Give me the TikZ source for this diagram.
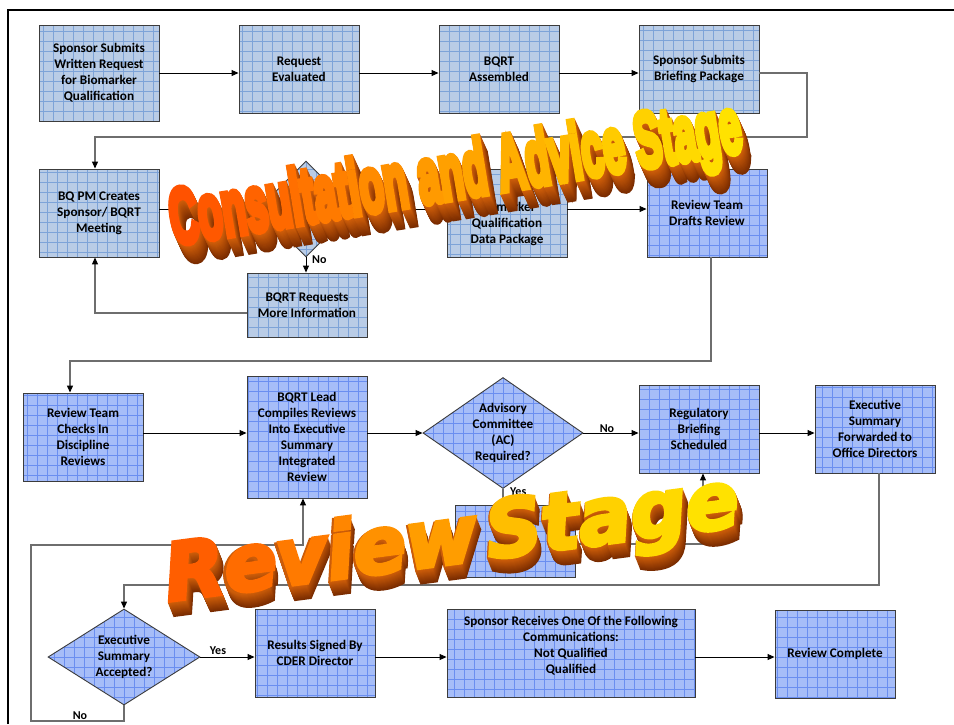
\documentclass[tikz,border=0pt]{standalone}
\usepackage{fontspec}
\setmainfont{Carlito}
\newfontfamily\waConsFont{Liberation Sans}[BoldFeatures={FakeBold=9}]
\newfontfamily\waRevFont{DejaVu Sans}[BoldItalicFeatures={FakeBold=5}]
\usetikzlibrary{shapes.geometric,arrows.meta}
\definecolor{boxgray}{HTML}{B9CCE6}
\definecolor{gridgray}{HTML}{7DA3D8}
\definecolor{boxblue}{HTML}{A6BDF8}
\definecolor{gridblue}{HTML}{6A8EF0}
\definecolor{edge}{HTML}{3C3C3C}
\definecolor{route}{HTML}{6E6E6E}
\definecolor{wr}{HTML}{FF5200}
\definecolor{wy}{HTML}{FFE200}
\definecolor{wdk}{HTML}{7A2C00}
\definecolor{wmd}{HTML}{D2600A}
\newcommand\gl[2]{\textcolor{wy!#1!wr}{#2}}
\newcommand\ConsPlain{Consultation and Advice Stage}
\newcommand\ConsColor{\gl{0}{C}\gl{4}{o}\gl{8}{n}\gl{12}{s}\gl{16}{u}\gl{20}{l}\gl{24}{t}\gl{28}{a}\gl{32}{t}\gl{36}{i}\gl{40}{o}\gl{44}{n} \gl{50}{a}\gl{54}{n}\gl{58}{d} \gl{64}{A}\gl{68}{d}\gl{72}{v}\gl{76}{i}\gl{80}{c}\gl{84}{e} \gl{88}{S}\gl{91}{t}\gl{94}{a}\gl{97}{g}\gl{100}{e}}
\newcommand\RevPlain{Review\hspace{0.12em}Stage}
\newcommand\RevColor{\gl{8}{R}\gl{18}{e}\gl{28}{v}\gl{36}{i}\gl{44}{e}\gl{52}{w}\hspace{0.12em}\gl{75}{S}\gl{82}{t}\gl{88}{a}\gl{94}{g}\gl{100}{e}}
\tikzset{
  basebox/.style={draw=edge, line width=0.9pt, inner sep=0pt, align=center,
    font=\bfseries\fontsize{13.2}{16}\selectfont, text=black},
  graybox/.style={basebox, rectangle, fill=boxgray,
    path picture={\draw[gridgray, line width=0.4pt, step=10pt]
      (path picture bounding box.south west) grid (path picture bounding box.north east);}},
  bluebox/.style={basebox, rectangle, fill=boxblue,
    path picture={\draw[gridblue, line width=0.4pt, step=10pt]
      (path picture bounding box.south west) grid (path picture bounding box.north east);}},
  graydia/.style={graybox, diamond},
  bluedia/.style={bluebox, diamond},
  arr/.style={line width=0.9pt, draw=black, -{Triangle[length=7pt,width=6pt]}},
  rline/.style={line width=1.1pt, draw=route},
  rarr/.style={rline, -{Triangle[length=7pt,width=6pt,color=black]}},
  lab/.style={font=\bfseries\fontsize{12}{14}\selectfont, inner sep=1pt, text=black},
  diatext/.style={font=\bfseries\fontsize{13.2}{16}\selectfont, align=center, text=black}
}
\begin{document}
\begin{tikzpicture}[x=1pt,y=-1pt]
\useasboundingbox (0,0) rectangle (954,724);
\fill[white] (0,0) rectangle (954,724);
\draw[line width=2.5pt] (8,724) -- (8,10) -- (954,10);

% consultation stage
\node[graybox, minimum width=120, minimum height=96] (b1) at (99,73) {Sponsor Submits\\Written Request\\for Biomarker\\Qualification};
\node[graybox, minimum width=120, minimum height=88] (b2) at (299,69) {Request\\Evaluated};
\node[graybox, minimum width=120, minimum height=88] (b3) at (499,69) {BQRT\\Assembled};
\node[graybox, minimum width=120, minimum height=88] (b4) at (699,69) {Sponsor Submits\\Briefing Package};
\node[graybox, minimum width=120, minimum height=88] (b5) at (99,213) {BQ PM Creates\\Sponsor/ BQRT\\Meeting};
\node[graydia, minimum width=96, minimum height=96] (d1) at (306,209) {};
\node[graybox, minimum width=120, minimum height=64] (b6) at (307,305) {BQRT Requests\\More Information};
\node[graybox, minimum width=120, minimum height=88] (b7) at (507,213) {\mbox{}\\\mbox{}\\Biomarker\\Qualification\\Data Package};
\node[bluebox, minimum width=120, minimum height=88] (b8) at (707,213) {Review Team\\Drafts Review};

% review stage
\node[bluebox, minimum width=120, minimum height=88] (b9) at (83,437) {Review Team\\Checks In\\Discipline\\Reviews};
\node[bluebox, minimum width=120, minimum height=122] (b10) at (307,437) {BQRT Lead\\Compiles Reviews\\Into Executive\\Summary\\Integrated\\Review};
\node[bluedia, minimum width=160, minimum height=111, label={[diatext]center:Advisory\\Committee\\(AC)\\Required?}] (d2) at (503,433) {};
\node[bluebox, minimum width=120, minimum height=88] (b11) at (699,429) {Regulatory\\Briefing\\Scheduled};
\node[bluebox, minimum width=120, minimum height=88] (b12) at (875,429) {Executive\\Summary\\Forwarded to\\Office Directors};
\node[bluebox, minimum width=120, minimum height=72] (b13) at (515,541) {};
\node[bluedia, minimum width=152, minimum height=96, label={[diatext]center:Executive\\Summary\\Accepted?}] (d3) at (124,657) {};
\node[bluebox, minimum width=120, minimum height=88] (b14) at (315,653) {Results Signed By\\CDER Director};
\node[bluebox, minimum width=248, minimum height=88] (b15) at (571,653) {Sponsor Receives One Of the Following\\Communications:\\Not Qualified\\Qualified\\\mbox{}};
\node[bluebox, minimum width=120, minimum height=88] (b16) at (835,654) {Review Complete};

% connectors
\draw[arr] (b1.east) -- (b1.east -| b2.west);
\draw[arr] (b2.east |- b1.east) -- (b1.east -| b3.west);
\draw[arr] (b3.east |- b1.east) -- (b1.east -| b4.west);
\coordinate (k1) at (807,137);
\draw[rarr] (b4.east |- b1.east) -| (k1) -| ([xshift=-4pt]b5.north);
\draw[arr] (d1.west -| b5.east) -- (d1.west);
\draw[arr] (d1.south) -- (d1.south |- b6.north);
\node[lab, anchor=west] (noA) at (311,260) {No};
\draw[rarr] ([yshift=-8pt]b6.west) -| ([xshift=-4pt]b5.south);
\draw[arr] (d1.east) -- (d1.east -| b7.west);
\draw[arr] (b7.east |- d1.east) -- (d1.east -| b8.west);
\coordinate (k2) at (70,361);
\draw[rarr] ([xshift=4pt]b8.south) |- (k2) -- (k2 |- b9.north);
\draw[arr] ([yshift=4pt]b9.east) -- ([yshift=4pt]b9.east -| b10.west);
\draw[arr] (b10.east |- d2.west) -- (d2.west);
\draw[arr] (d2.east) -- (d2.east -| b11.west);
\node[lab] (noB) at (607,429) {No};
\draw[arr] (b11.east |- d2.east) -- (d2.east -| b12.west);
\draw[rline] (d2.south) -- (d2.south |- b13.north);
\node[lab, anchor=west] (yesB) at (509,492) {Yes};
\draw[rarr] ([yshift=-3pt]b13.east) -| ([xshift=4pt]b11.south);
\coordinate (k3) at (124,585);
\draw[rarr] ([xshift=4pt]b12.south) |- (k3) -- (d3.north);
\coordinate (k4) at (124,721);
\coordinate (k5) at (31,545);
\draw[rarr] (d3.south) -- (k4) -| (k5) -| ([xshift=-4pt]b10.south);
\node[lab] (noC) at (80,716) {No};
\draw[arr] (d3.east) -- (d3.east -| b14.west);
\node[lab] (yesC) at (218,651) {Yes};
\draw[arr] (b14.east |- d3.east) -- (d3.east -| b15.west);
\draw[arr] (b15.east |- d3.east) -- (d3.east -| b16.west);

% word art titles
\foreach \k [evaluate=\k as \p using int(100-100*\k/16)] in {16,15,...,1}
  \node[rotate=9.3, inner sep=0pt, text=wmd!\p!wdk] at (456+0.5*\k,178+1.1*\k)
    {\resizebox{578pt}{57pt}{\waConsFont\bfseries\ConsPlain}};
\node[rotate=9.3, inner sep=0pt] (wa1) at (456,178)
    {\resizebox{578pt}{57pt}{\waConsFont\bfseries\ConsColor}};

\foreach \k [evaluate=\k as \p using int(100-100*\k/14)] in {14,13,...,1}
  \node[rotate=7.5, inner sep=0pt, text=wmd!\p!wdk] at (452+0.4*\k,542+1.0*\k)
    {\resizebox{578pt}{60pt}{\waRevFont\bfseries\itshape\RevPlain}};
\node[rotate=7.5, inner sep=0pt] (wa2) at (452,542)
    {\resizebox{578pt}{60pt}{\waRevFont\bfseries\itshape\RevColor}};
\end{tikzpicture}
\end{document}
